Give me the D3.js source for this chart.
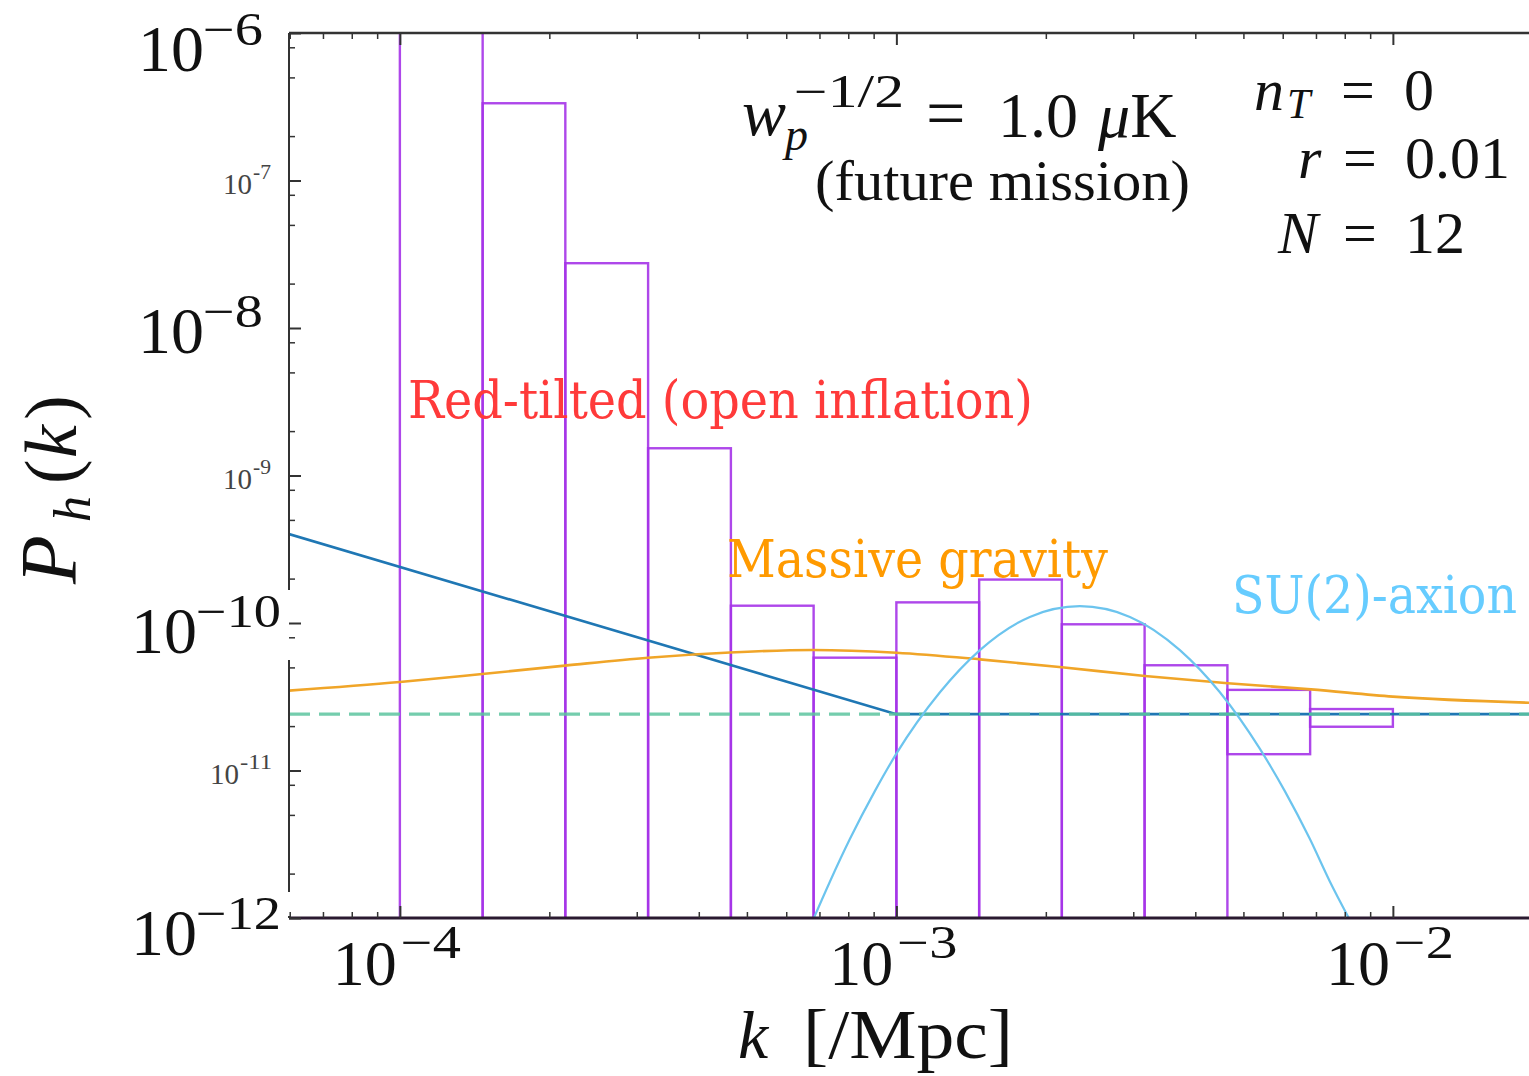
<!DOCTYPE html>
<html>
<head>
<meta charset="utf-8">
<script src="https://cdn.jsdelivr.net/npm/d3@7"></script>
<style>
  html, body { margin: 0; padding: 0; background: #fff; }
  svg { display: block; }
  text { font-family: "Liberation Serif", "DejaVu Serif", serif; fill: #111; }
  .lbl { font-family: "DejaVu Serif", serif; font-stretch: condensed; }
</style>
</head>
<body>
<svg id="chart" width="1529" height="1076"></svg>
<script>
// forecast bins in k [/Mpc] (6 per decade)
var binEdges = [1e-4, 1.468e-4, 2.154e-4, 3.162e-4, 4.642e-4, 6.813e-4, 1e-3,
                1.468e-3, 2.154e-3, 3.162e-3, 4.642e-3, 6.813e-3, 1e-2];
// error boxes: upper / lower P_h per bin (0 = reaches below the axis floor)
var boxUpper = [2e-6, 3.34e-7, 2.75e-8, 1.53e-9, 1.31e-10, 5.82e-11, 1.38e-10,
                1.97e-10, 9.8e-11, 5.17e-11, 3.52e-11, 2.61e-11];
var boxLower = [0, 0, 0, 0, 0, 0, 0, 0, 0, 0, 1.29e-11, 1.98e-11];

// fiducial scale-invariant spectrum (r = 0.01)
var fidK = [5.98e-5, 1.88e-2];
var fidP = [2.41e-11, 2.41e-11];

// red-tilted (open inflation)
var redK = [5.98e-5, 1e-3, 1.88e-2];
var redP = [4.01e-10, 2.41e-11, 2.41e-11];

// massive gravity
var mgK = [5.98e-5, 1e-4, 1.465e-4, 2.15e-4, 3.16e-4, 4.62e-4, 6.79e-4, 1e-3,
           1.473e-3, 2.154e-3, 3.166e-3, 4.65e-3, 6.84e-3, 1e-2, 1.88e-2];
var mgP = [3.48e-11, 3.98e-11, 4.51e-11, 5.14e-11, 5.82e-11, 6.31e-11, 6.56e-11, 6.29e-11,
           5.67e-11, 5.01e-11, 4.37e-11, 3.90e-11, 3.55e-11, 3.17e-11, 2.88e-11];

// SU(2)-axion
var suK = [6.82e-4, 7.35e-4, 8.06e-4, 9.05e-4, 1.0e-3, 1.224e-3, 1.473e-3, 1.857e-3, 2.342e-3,
           2.954e-3, 3.724e-3, 4.483e-3, 5.398e-3, 6.059e-3, 6.806e-3, 7.465e-3, 8.151e-3];
var suP = [1.0e-12, 1.77e-12, 3.43e-12, 7.25e-12, 1.30e-11, 3.39e-11, 6.55e-11, 1.10e-10, 1.30e-10,
           1.10e-10, 6.55e-11, 3.39e-11, 1.40e-11, 7.25e-12, 3.43e-12, 1.77e-12, 1.0e-12];

var xMajor = [1e-4, 1e-3, 1e-2];
var xMajorExp = ["\u22124", "\u22123", "\u22122"];
var yBig = [1e-6, 1e-8, 1e-10, 1e-12];
var yBigExp = ["\u22126", "\u22128", "\u221210", "\u221212"];
var ySmall = [1e-7, 1e-9, 1e-11];
var ySmallExp = ["-7", "-9", "-11"];

var svg = d3.select("#chart");
var L = 289, R = 1529, T = 33, B = 918;

var x = d3.scaleLog().domain([5.98e-5, 1.88e-2]).range([L, R]);
var y = d3.scaleLog().domain([1e-12, 1e-6]).range([B, T]);

svg.append("defs").append("clipPath").attr("id", "plotclip")
  .append("rect").attr("x", L).attr("y", T).attr("width", R - L).attr("height", B - T);

var plot = svg.append("g").attr("clip-path", "url(#plotclip)");

// error boxes
var boxes = d3.range(boxUpper.length).map(function(i) {
  return {k0: binEdges[i], k1: binEdges[i + 1], hi: boxUpper[i], lo: boxLower[i]};
});
plot.selectAll("rect.box").data(boxes).enter().append("rect")
  .attr("class", "box")
  .attr("x", function(d) { return x(d.k0); })
  .attr("width", function(d) { return x(d.k1) - x(d.k0); })
  .attr("y", function(d) { return y(d.hi); })
  .attr("height", function(d) { return (d.lo > 0 ? y(d.lo) : B + 3) - y(d.hi); })
  .attr("fill", "none")
  .attr("stroke", "#a533e8")
  .attr("stroke-opacity", 0.9)
  .attr("stroke-width", 2.4);

var line = d3.line().x(function(d) { return x(d[0]); }).y(function(d) { return y(d[1]); });
var smooth = d3.line().x(function(d) { return x(d[0]); }).y(function(d) { return y(d[1]); })
  .curve(d3.curveMonotoneX);

plot.append("path").attr("d", line(d3.zip(redK, redP)))
  .attr("fill", "none").attr("stroke", "#1f77b4").attr("stroke-width", 2.6);
plot.append("path").attr("d", line(d3.zip(fidK, fidP)))
  .attr("fill", "none").attr("stroke", "#5cc49f").attr("stroke-width", 3.4)
  .attr("stroke-opacity", 0.85).attr("stroke-dasharray", "21,9");
plot.append("path").attr("d", smooth(d3.zip(mgK, mgP)))
  .attr("fill", "none").attr("stroke", "#f0a528").attr("stroke-width", 2.6);
plot.append("path").attr("d", smooth(d3.zip(suK, suP)))
  .attr("fill", "none").attr("stroke", "#6cc4ee").attr("stroke-width", 2.2);

// spines
svg.append("line").attr("x1", L).attr("x2", R).attr("y1", T).attr("y2", T)
  .attr("stroke", "#333").attr("stroke-width", 2.5);
svg.append("line").attr("x1", L).attr("x2", R).attr("y1", B).attr("y2", B)
  .attr("stroke", "#2a1a30").attr("stroke-width", 3);
svg.append("line").attr("x1", L).attr("x2", L).attr("y1", T).attr("y2", B)
  .attr("stroke", "#333").attr("stroke-width", 2);

// pasted-over label patches that hide bits of the left spine
svg.append("rect").attr("x", 283).attr("y", 590).attr("width", 8).attr("height", 70).attr("fill", "#fff");
svg.append("rect").attr("x", 283).attr("y", 892).attr("width", 8).attr("height", 24).attr("fill", "#fff");

// ticks
function minorTicks(lo, hi, mults) {
  var out = [];
  for (var e = lo; e <= hi; e++) mults.forEach(function(m) { out.push(m * Math.pow(10, e)); });
  return out;
}
var xMinor = minorTicks(-5, -2, [2, 3, 4, 5, 6, 7, 8, 9]).filter(function(v) { return v > 5.98e-5 && v < 1.88e-2; });
var yMinor = minorTicks(-12, -7, [2, 5, 8]);
var yMajor = [1e-12, 1e-11, 1e-10, 1e-9, 1e-8, 1e-7, 1e-6];

function tickStyle(g, w) {
  g.select(".domain").remove();
  g.selectAll("line").attr("stroke", "#333").attr("stroke-width", w);
}
svg.append("g").attr("transform", "translate(0," + B + ")")
  .call(d3.axisTop(x).tickValues(xMinor).tickSize(6).tickFormat(""))
  .call(tickStyle, 1.5);
svg.append("g").attr("transform", "translate(0," + B + ")")
  .call(d3.axisTop(x).tickValues(xMajor).tickSize(12).tickFormat(""))
  .call(tickStyle, 2);
svg.append("g").attr("transform", "translate(0," + T + ")")
  .call(d3.axisBottom(x).tickValues(xMinor).tickSize(6).tickFormat(""))
  .call(tickStyle, 1.5);
svg.append("g").attr("transform", "translate(0," + T + ")")
  .call(d3.axisBottom(x).tickValues(xMajor).tickSize(12).tickFormat(""))
  .call(tickStyle, 2);
svg.append("g").attr("transform", "translate(" + L + ",0)")
  .call(d3.axisRight(y).tickValues(yMinor).tickSize(6).tickFormat(""))
  .call(tickStyle, 1.5);
svg.append("g").attr("transform", "translate(" + L + ",0)")
  .call(d3.axisRight(y).tickValues(yMajor).tickSize(12).tickFormat(""))
  .call(tickStyle, 2);

// "10^e" helper
function pow10(g, xb, yb, fs, exp, xs, ys, fss, supLen, color) {
  g.append("text").attr("x", xb).attr("y", yb).attr("font-size", fs)
    .style("fill", color).text("10");
  g.append("text").attr("x", xs).attr("y", ys).attr("font-size", fss)
    .attr("textLength", supLen).attr("lengthAdjust", "spacingAndGlyphs")
    .style("fill", color).text(exp);
}

var labels = svg.append("g");
// x tick labels
xMajor.forEach(function(v, i) {
  var px = x(v);
  pow10(labels, px - 67, 985, 64, xMajorExp[i], px + 1, 958, 46, 60, "#111");
});
// big y tick labels (pasted, offsets differ)
var yBigDx = [138, 138, 131, 131];
var yBigBase = [71, 353, 653, 955];
var yBigSupLen = [60, 60, 85, 85];
yBig.forEach(function(v, i) {
  pow10(labels, yBigDx[i], yBigBase[i], 66, yBigExp[i], yBigDx[i] + 65, yBigBase[i] - 26, 46, yBigSupLen[i], "#111");
});
// small y tick labels
var ySmallDx = [223, 223, 210];
ySmall.forEach(function(v, i) {
  var yb = y(v) + 13;
  pow10(labels, ySmallDx[i], yb, 29, ySmallExp[i], ySmallDx[i] + 30, yb - 15, 20, i === 2 ? 32 : 18, "#444");
});

// axis titles
var xt = svg.append("text").attr("x", 738).attr("y", 1058).attr("font-size", 68);
xt.append("tspan").style("font-style", "italic").text("k");
svg.append("text").attr("x", 803).attr("y", 1058).attr("font-size", 70)
  .attr("textLength", 210).attr("lengthAdjust", "spacingAndGlyphs").text("[/Mpc]");

var yt = svg.append("text").attr("transform", "translate(76,584) rotate(-90)").attr("font-size", 74);
yt.append("tspan").style("font-style", "italic").attr("font-size", 80).text("P");
yt.append("tspan").attr("x", 62).attr("dy", 14).style("font-style", "italic").attr("font-size", 52).text("h");
yt.append("tspan").attr("x", 100).attr("dy", -14).text("(");
yt.append("tspan").attr("x", 126).style("font-style", "italic").text("k");
yt.append("tspan").attr("x", 164).text(")");

// annotation: noise level
svg.append("text").attr("x", 742).attr("y", 135).attr("font-size", 66).style("font-style", "italic").text("w");
svg.append("text").attr("x", 794).attr("y", 107).attr("font-size", 46)
  .attr("textLength", 110).attr("lengthAdjust", "spacingAndGlyphs").text("\u22121/2");
svg.append("text").attr("x", 785).attr("y", 150).attr("font-size", 46).style("font-style", "italic").text("p");
var wp = svg.append("text").attr("y", 137).attr("font-size", 64);
wp.append("tspan").attr("x", 926).attr("font-size", 70).text("=");
wp.append("tspan").attr("x", 998).text("1.0");
wp.append("tspan").attr("x", 1098).style("font-style", "italic").text("\u03bc");
wp.append("tspan").text("K");
svg.append("text").attr("x", 815).attr("y", 200).attr("font-size", 58)
  .attr("textLength", 375).attr("lengthAdjust", "spacingAndGlyphs").text("(future mission)");

// annotation: parameters
var p1 = svg.append("text").attr("y", 110).attr("font-size", 60);
p1.append("tspan").attr("x", 1254).style("font-style", "italic").text("n");
p1.append("tspan").attr("x", 1287).attr("dy", 8).attr("font-size", 42).style("font-style", "italic").text("T");
p1.append("tspan").attr("x", 1341).attr("dy", -8).text("=");
p1.append("tspan").attr("x", 1404).text("0");
var p2 = svg.append("text").attr("y", 178).attr("font-size", 60);
p2.append("tspan").attr("x", 1298).style("font-style", "italic").text("r");
p2.append("tspan").attr("x", 1343).text("=");
p2.append("tspan").attr("x", 1405).text("0.01");
var p3 = svg.append("text").attr("y", 253).attr("font-size", 60);
p3.append("tspan").attr("x", 1278).style("font-style", "italic").text("N");
p3.append("tspan").attr("x", 1343).text("=");
p3.append("tspan").attr("x", 1405).text("12");

// model labels
svg.append("text").attr("class", "lbl").attr("x", 408).attr("y", 418).attr("font-size", 52)
  .attr("textLength", 625).attr("lengthAdjust", "spacingAndGlyphs")
  .style("fill", "#ff3a3a").text("Red-tilted (open inflation)");
svg.append("text").attr("class", "lbl").attr("x", 727).attr("y", 577).attr("font-size", 52)
  .attr("textLength", 381).attr("lengthAdjust", "spacingAndGlyphs")
  .style("fill", "#ff9a00").text("Massive gravity");
svg.append("text").attr("class", "lbl").attr("x", 1232).attr("y", 613).attr("font-size", 52)
  .attr("textLength", 285).attr("lengthAdjust", "spacingAndGlyphs")
  .style("fill", "#66ccff").text("SU(2)-axion");
</script>
</body>
</html>
